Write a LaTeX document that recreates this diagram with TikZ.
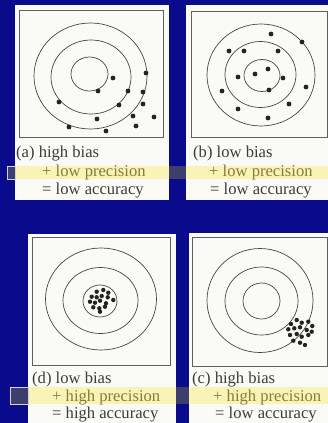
\documentclass[tikz,border=0pt]{standalone}
\usepackage{fontspec}
\setmainfont{Liberation Serif}
\definecolor{bg}{RGB}{10,10,140}
\definecolor{cardwhite}{RGB}{250,250,246}
\definecolor{framegray}{RGB}{95,95,95}
\definecolor{ringgray}{RGB}{70,70,70}
\definecolor{dotblack}{RGB}{35,35,35}
\definecolor{captext}{RGB}{60,60,60}
\definecolor{hltext}{RGB}{140,122,52}
\definecolor{hlband}{RGB}{248,244,184}
\definecolor{darkbox}{RGB}{62,62,108}
\definecolor{boxedge}{RGB}{210,210,225}
\begin{document}
\begin{tikzpicture}[x=1pt,y=-1pt,
  card/.style={fill=cardwhite},
  frame/.style={draw=framegray,line width=0.8pt},
  ring/.style={draw=ringgray,line width=0.7pt},
  dot/.style={fill=dotblack},
  band/.style={fill=hlband},
  dbox/.style={fill=darkbox},
  ebox/.style={fill=darkbox,draw=boxedge,line width=0.8pt},
  captxt/.style={anchor=base west,inner sep=0pt,text=captext,font=\fontsize{16.6}{19}\selectfont},
  hcaptxt/.style={captxt,text=hltext}]
\useasboundingbox (0,0) rectangle (328,423);
\clip (0,0) rectangle (328,423);
\fill[bg] (0,0) rectangle (328,423);
% cards
\fill[card] (15,5) rectangle (169,200);
\fill[card] (186,5) rectangle (328,200);
\fill[card] (28,234) rectangle (176,423);
\fill[card] (189,233) rectangle (328,423);
% highlight bands
\fill[band] (15,166) rectangle (328,179);
\fill[dbox] (169,166) rectangle (186,179);
\filldraw[ebox] (7,166) rectangle (15,179);
\fill[band] (28,387) rectangle (328,404);
\fill[dbox] (176,387) rectangle (189,404);
\filldraw[ebox] (10,387) rectangle (28,404);
% frames
\draw[frame] (19,10) rectangle (163,137);
\draw[frame] (191,11) rectangle (327,137);
\draw[frame] (32,237) rectangle (170,365);
\draw[frame] (192,237) rectangle (327,366);
% (a) rings and dots
\draw[ring] (90.5,76) ellipse [x radius=56.5pt, y radius=53pt];
\draw[ring] (91,77) ellipse [x radius=40pt, y radius=37pt];
\draw[ring] (89.5,74) ellipse [x radius=18.5pt, y radius=17pt];
\foreach \p in {(113,78),(146,73),(98,91),(128,91),(143,92),(59,102),(119,105),(143,104),(133,116),(154,117),(97,119),(69,127),(136,126),(106,131)}
  \fill[dot] \p circle[radius=2.4pt];
% (b) rings and dots
\draw[ring] (261,75) ellipse [x radius=54pt, y radius=51pt];
\draw[ring] (260.5,74.5) ellipse [x radius=35.5pt, y radius=33pt];
\draw[ring] (262,75.5) ellipse [x radius=18pt, y radius=16pt];
\foreach \p in {(271,34),(302,42),(229,51),(244,51),(278,51),(268,69),(255,74),(238,77),(283,78),(269,90),(306,87),(222,91),(289,104),(238,109),(268,118)}
  \fill[dot] \p circle[radius=2.4pt];
% (d) rings and dots
\draw[ring] (101,299) ellipse [x radius=55.5pt, y radius=51pt];
\draw[ring] (100.5,300.5) ellipse [x radius=37.5pt, y radius=33pt];
\draw[ring] (100,301) ellipse [x radius=17pt, y radius=16pt];
\foreach \p in {(96.7,291.7),(103.3,290),(108.3,292.7),(91.7,296.7),(96.7,297.3),(101.7,296),(107.7,297.3),(90,301.7),(95,302.7),(100,300.7),(106,303.3),(113.3,300),(93.3,307.3),(99.3,308.3),(105,306.7),(100,311.7)}
  \fill[dot] \p circle[radius=2.2pt];
% (c) rings and dots
\draw[ring] (260,300.5) ellipse [x radius=53pt, y radius=52pt];
\draw[ring] (261.5,301) ellipse [x radius=36.5pt, y radius=34pt];
\draw[ring] (261.5,301) ellipse [x radius=18.5pt, y radius=18pt];
\foreach \p in {(291,324),(296.7,320),(301.7,322.7),(308.3,321.7),(312.3,326),(288.3,329.3),(294.3,328.3),(300,327.3),(306.7,330),(311.7,331.7),(290,335),(296.7,334),(301.7,336.7),(308.3,335),(293.3,340.7),(300,342.7),(305,345)}
  \fill[dot] \p circle[radius=2.2pt];
% captions
\node[captxt] (a1) at (16,157) {(a) high bias};
\node[hcaptxt] (a2) at (42,176) {+ low precision};
\node[captxt] (a3) at (42,194) {= low accuracy};
\node[captxt] (b1) at (193,157) {(b) low bias};
\node[hcaptxt] (b2) at (209,176) {+ low precision};
\node[captxt] (b3) at (210,194) {= low accuracy};
\node[captxt] (d1) at (32,383) {(d) low bias};
\node[hcaptxt] (d2) at (52,401) {+ high precision};
\node[captxt] (d3) at (52,418) {= high accuracy};
\node[captxt] (c1) at (192,383) {(c) high bias};
\node[hcaptxt] (c2) at (213,401) {+ high precision};
\node[captxt] (c3) at (215,418) {= low accuracy};
\end{tikzpicture}
\end{document}
